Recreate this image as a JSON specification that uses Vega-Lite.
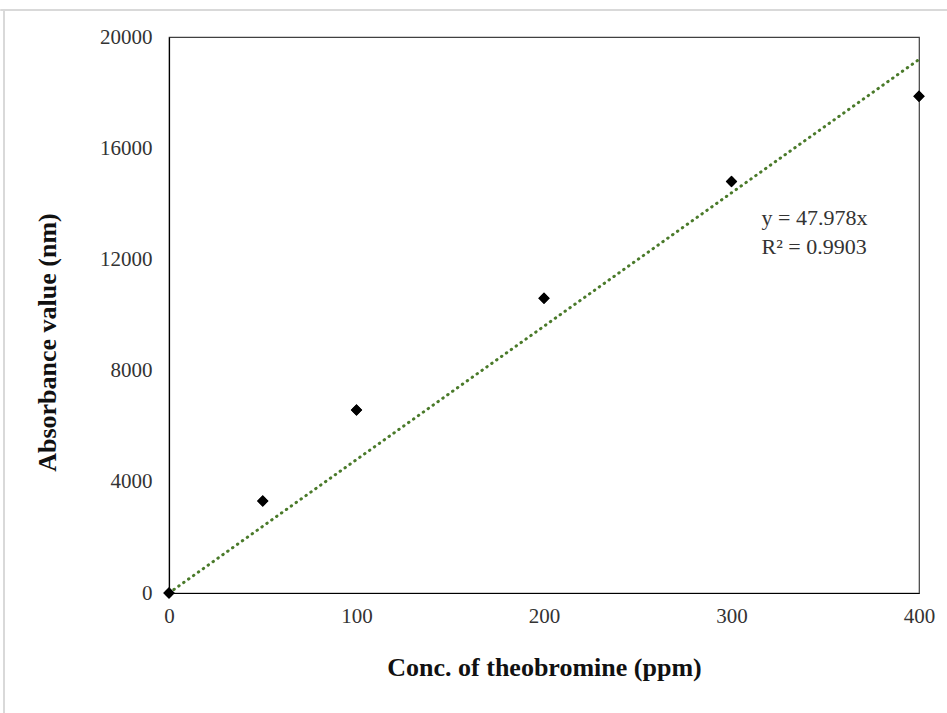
{
  "$schema": "https://vega.github.io/schema/vega-lite/v6.json",
  "autosize": {"type": "none"},
  "width": 750,
  "height": 556,
  "padding": {"left": 169, "top": 37, "right": 28, "bottom": 120},
  "background": "white",
  "config": {
    "view": {"stroke": "#404040", "strokeWidth": 1.2},
    "font": "Liberation Serif",
    "axis": {
      "grid": false, "ticks": false, "labelFlush": false,
      "domainColor": "black", "domainWidth": 1.2,
      "labelFont": "Liberation Serif", "labelFontSize": 21, "labelColor": "#333333",
      "titleFont": "Liberation Serif", "titleFontSize": 26, "titleFontWeight": "bold", "titleColor": "#111111"
    }
  },
  "datasets": {
    "pts": [
      {"conc": 0, "abs": 0},
      {"conc": 50, "abs": 3310},
      {"conc": 100, "abs": 6580},
      {"conc": 200, "abs": 10600},
      {"conc": 300, "abs": 14800},
      {"conc": 400, "abs": 17870}
    ],
    "trend": [
      {"conc": 0, "abs": 0},
      {"conc": 400, "abs": 19191.2}
    ],
    "label": [
      {"conc": 316, "abs": 13500, "text": "y = 47.978x"},
      {"conc": 316, "abs": 12450, "text": "R² = 0.9903"}
    ],
    "frameH": [
      {"x1": -90, "x2": 470, "y": 20975}
    ],
    "frameV": [
      {"x": -88, "y1": 20975, "y2": -5000}
    ]
  },
  "layer": [
    {
      "data": {"name": "pts"},
      "mark": {"type": "point", "shape": "diamond", "filled": true, "color": "black", "size": 130, "opacity": 1},
      "encoding": {
        "x": {
          "field": "conc", "type": "quantitative",
          "scale": {"domain": [0, 400], "nice": false, "zero": true},
          "axis": {
            "title": "Conc. of theobromine (ppm)",
            "values": [0, 100, 200, 300, 400],
            "labelFlush": false,
            "labelPadding": 12,
            "titlePadding": 28
          }
        },
        "y": {
          "field": "abs", "type": "quantitative",
          "scale": {"domain": [0, 20000], "nice": false},
          "axis": {
            "title": "Absorbance value (nm)",
            "values": [0, 4000, 8000, 12000, 16000, 20000],
            "format": "d",
            "labelFlush": false,
            "labelPadding": 17,
            "titlePadding": 39,
            "titleY": 305
          }
        }
      }
    },
    {
      "data": {"name": "frameH"},
      "mark": {"type": "rule", "color": "#d9d9d9", "strokeWidth": 2, "clip": false},
      "encoding": {
        "x": {"field": "x1", "type": "quantitative"},
        "x2": {"field": "x2"},
        "y": {"field": "y", "type": "quantitative"}
      }
    },
    {
      "data": {"name": "frameV"},
      "mark": {"type": "rule", "color": "#d9d9d9", "strokeWidth": 2, "clip": false},
      "encoding": {
        "x": {"field": "x", "type": "quantitative"},
        "y": {"field": "y1", "type": "quantitative"},
        "y2": {"field": "y2"}
      }
    },
    {
      "data": {"name": "trend"},
      "mark": {"type": "line", "color": "#4a7a2a", "strokeWidth": 3, "strokeDash": [0.5, 5.5], "strokeCap": "round"},
      "encoding": {
        "x": {"field": "conc", "type": "quantitative"},
        "y": {"field": "abs", "type": "quantitative"}
      }
    },
    {
      "data": {"name": "pts"},
      "mark": {"type": "point", "shape": "diamond", "filled": true, "color": "black", "size": 130, "opacity": 1},
      "encoding": {
        "x": {"field": "conc", "type": "quantitative"},
        "y": {"field": "abs", "type": "quantitative"}
      }
    },
    {
      "data": {"name": "label"},
      "mark": {"type": "text", "align": "left", "baseline": "middle", "font": "Liberation Serif", "fontSize": 22, "color": "#333333"},
      "encoding": {
        "x": {"field": "conc", "type": "quantitative"},
        "y": {"field": "abs", "type": "quantitative"},
        "text": {"field": "text"}
      }
    }
  ]
}
